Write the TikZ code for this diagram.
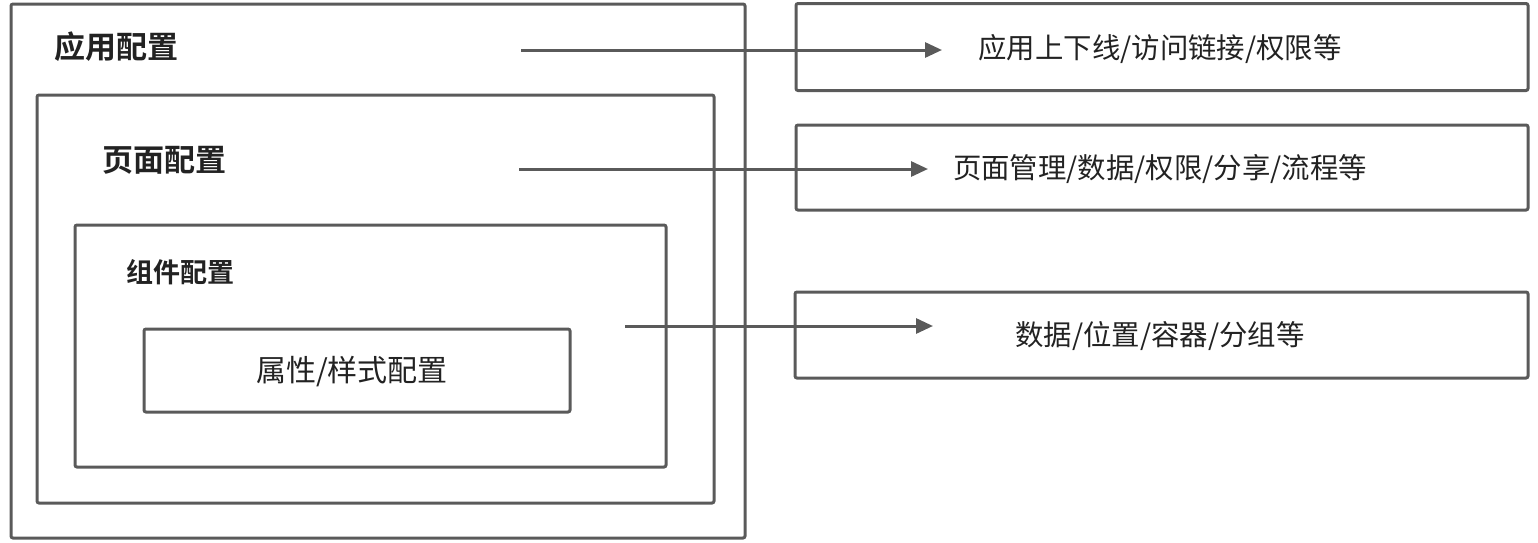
\documentclass[tikz,border=0pt]{standalone}
\usepackage{fontspec}
\setmainfont{Noto Sans CJK SC}
\newfontfamily\cjkb{Noto Sans CJK SC Bold}
\usetikzlibrary{arrows.meta}
\definecolor{linec}{HTML}{5A5A5A}
\definecolor{textc}{HTML}{222222}
\tikzset{
  boxr/.style={draw=linec, line width=1.5pt, rounded corners=1pt, inner sep=0pt},
  lbl/.style={text=textc, font=\cjkb\fontsize{15.5pt}{18pt}\selectfont, anchor=west, inner sep=0pt},
  lbls/.style={text=textc, font=\cjkb\fontsize{13.5pt}{16pt}\selectfont, anchor=west, inner sep=0pt},
  txt/.style={text=textc, font=\fontsize{14.2pt}{17pt}\selectfont, inner sep=0pt},
  txtp/.style={text=textc, font=\fontsize{15pt}{18pt}\selectfont, inner sep=0pt},
  arr/.style={draw=linec, line width=1.5pt, -{Triangle[length=8.5pt,width=7.5pt]}},
}
\begin{document}
\begin{tikzpicture}[x=0.5pt,y=-0.5pt]
\useasboundingbox (0,0) rectangle (1538,542);
% left nested boxes
\draw[boxr] (11,4) rectangle (745,538);
\draw[boxr] (37,95) rectangle (714,503);
\draw[boxr] (75,225) rectangle (666,467);
\node[boxr, minimum width=213pt, minimum height=41.5pt] (prop) at (357,370.5) {};
\node[txtp] (proptxt) at (352,372) {属性/样式配置};
\node[lbl] (app) at (54,47) {应用配置};
\node[lbl] (page) at (102,160) {页面配置};
\node[lbls] (comp) at (126,272) {组件配置};
% right boxes
\node[boxr, minimum width=366pt, minimum height=43.5pt] (r1) at (1162,47) {};
\node[boxr, minimum width=366pt, minimum height=42.5pt] (r2) at (1162,167.5) {};
\node[boxr, minimum width=366.5pt, minimum height=43pt] (r3) at (1161.5,335) {};
\node[txt] (t1) at (1160,49) {应用上下线/访问链接/权限等};
\node[txt] (t2) at (1160,169) {页面管理/数据/权限/分享/流程等};
\node[txt] (t3) at (1160,336) {数据/位置/容器/分组等};
% arrows
\coordinate (a1s) at (521,50);
\coordinate (a1e) at (942,50);
\coordinate (a2s) at (519,169);
\coordinate (a2e) at (928,169);
\coordinate (a3s) at (625,326);
\coordinate (a3e) at (933,326);
\draw[arr] (a1s) -- (a1e);
\draw[arr] (a2s) -- (a2e);
\draw[arr] (a3s) -- (a3e);
\end{tikzpicture}
\end{document}
